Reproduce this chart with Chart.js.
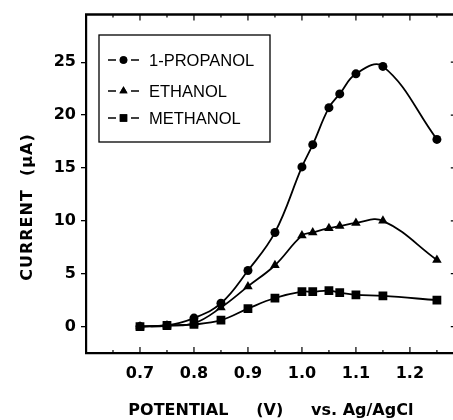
<!DOCTYPE html>
<html>
<head>
<meta charset="utf-8">
<script src="https://cdn.jsdelivr.net/npm/chart.js@4/dist/chart.umd.min.js"></script>
<style>
  html, body { margin: 0; padding: 0; background: #fff; overflow: hidden; }
  #wrap { width: 453px; height: 420px; overflow: hidden; }
</style>
</head>
<body>
<div id="wrap"><canvas id="c" width="462" height="420"></canvas></div>
<script>
// ---- data ----
const potential = [0.70, 0.75, 0.80, 0.85, 0.90, 0.95, 1.00, 1.02, 1.05, 1.07, 1.10, 1.15, 1.25];
const propanol  = [0.0, 0.1, 0.8, 2.2, 5.3, 8.9, 15.1, 17.2, 20.7, 22.0, 23.9, 24.6, 17.7];
const ethanol   = [0.0, 0.1, 0.3, 1.8, 3.8, 5.8, 8.6, 8.9, 9.3, 9.5, 9.8, 10.0, 6.3];
const methanol  = [0.0, 0.1, 0.2, 0.6, 1.7, 2.7, 3.3, 3.3, 3.4, 3.2, 3.0, 2.9, 2.5];
const seriesNames = ['1-PROPANOL', 'ETHANOL', 'METHANOL'];
const xTickLabels = [0.7, 0.8, 0.9, 1.0, 1.1, 1.2];
const xMinorTicks = [0.65, 0.75, 0.85, 0.95, 1.05, 1.15, 1.25];
const yTickLabels = [0, 5, 10, 15, 20, 25];
const xTitle = 'POTENTIAL     (V)     vs. Ag/AgCl';
const yTitle = 'CURRENT  (μA)';

const pts = arr => arr.map((v, i) => ({ x: potential[i], y: v }));

const styles = [
  { pointStyle: 'circle', pointRadius: 4.5 },
  { pointStyle: 'triangle', pointRadius: 5.5 },
  { pointStyle: 'rect', pointRadius: 6.2 }
];
const allSeries = [propanol, ethanol, methanol];

const datasets = allSeries.map((s, i) => ({
  label: seriesNames[i],
  data: pts(s),
  showLine: true,
  borderColor: '#000',
  backgroundColor: '#000',
  borderWidth: 1.8,
  tension: 0.4,
  pointStyle: styles[i].pointStyle,
  pointRadius: styles[i].pointRadius,
  pointBackgroundColor: '#000',
  pointBorderColor: '#000',
  pointBorderWidth: 0
}));

const framePlugin = {
  id: 'frame',
  afterDraw(chart) {
    const ctx = chart.ctx;
    const a = chart.chartArea;
    const xs = chart.scales.x, ys = chart.scales.y;
    ctx.save();
    ctx.strokeStyle = '#000';
    // top line
    ctx.lineWidth = 2.5;
    ctx.beginPath();
    ctx.moveTo(a.left - 1, a.top);
    ctx.lineTo(a.right, a.top);
    ctx.stroke();
    // inward ticks bottom & top
    ctx.lineWidth = 1.2;
    ctx.beginPath();
    xTickLabels.forEach(v => {
      const px = xs.getPixelForValue(v);
      ctx.moveTo(px, a.bottom); ctx.lineTo(px, a.bottom - 6);
      ctx.moveTo(px, a.top); ctx.lineTo(px, a.top + 6);
    });
    xMinorTicks.forEach(v => {
      const px = xs.getPixelForValue(v);
      ctx.moveTo(px, a.bottom); ctx.lineTo(px, a.bottom - 3);
      ctx.moveTo(px, a.top); ctx.lineTo(px, a.top + 3);
    });
    // right inward ticks
    yTickLabels.forEach(v => {
      const py = ys.getPixelForValue(v);
      ctx.moveTo(a.right, py); ctx.lineTo(a.right - 5, py);
    });
    ctx.stroke();

    // y title
    ctx.save();
    ctx.translate(28, 207);
    ctx.rotate(-Math.PI / 2);
    ctx.font = 'bold 16px "DejaVu Sans", sans-serif';
    ctx.letterSpacing = '1px';
    ctx.textAlign = 'center';
    ctx.textBaseline = 'middle';
    ctx.fillStyle = '#000';
    ctx.fillText(yTitle, 0, 0);
    ctx.restore();

    // legend box
    const bx = 99, by = 35, bw = 171, bh = 107;
    ctx.lineWidth = 1.3;
    ctx.strokeRect(bx, by, bw, bh);
    const rows = [60, 91, 118];
    ctx.font = '16.5px "Liberation Sans", Arial, sans-serif';
    ctx.fillStyle = '#000';
    ctx.textBaseline = 'middle';
    ctx.textAlign = 'left';
    chart.data.datasets.forEach((ds, i) => {
      const y = rows[i];
      ctx.lineWidth = 1.5;
      ctx.beginPath();
      ctx.moveTo(108, y); ctx.lineTo(116, y);
      ctx.moveTo(131, y); ctx.lineTo(139, y);
      ctx.stroke();
      Chart.helpers.drawPoint(ctx, {
        pointStyle: ds.pointStyle,
        radius: ds.pointRadius * 0.85,
        rotation: 0,
        borderWidth: 0
      }, 123.5, y);
      ctx.fill();
      ctx.fillText(ds.label, 149, y + 1);
    });
    ctx.restore();
  }
};

new Chart(document.getElementById('c'), {
  type: 'scatter',
  data: { datasets },
  plugins: [framePlugin],
  options: {
    responsive: false,
    animation: false,
    devicePixelRatio: 1,
    layout: { padding: { top: 14, right: 0, left: 0, bottom: 0 } },
    plugins: { legend: { display: false }, tooltip: { enabled: false } },
    scales: {
      x: {
        type: 'linear',
        min: 0.6,
        max: 1.285,
        afterBuildTicks: s => { s.ticks = xTickLabels.map(v => ({ value: v })); },
        afterFit: s => { s.height = 67; },
        grid: { display: true, drawOnChartArea: false, drawTicks: false },
        border: { display: true, color: '#000', width: 2.2 },
        ticks: {
          color: '#000',
          padding: 11,
          maxRotation: 0,
          font: { family: '"DejaVu Sans", sans-serif', size: 16, weight: 'bold' },
          callback: v => v.toFixed(1)
        },
        title: {
          display: true,
          text: xTitle,
          color: '#000',
          padding: { top: 8, bottom: 0 },
          font: { family: '"DejaVu Sans", sans-serif', size: 16, weight: 'bold' }
        }
      },
      y: {
        type: 'linear',
        min: -2.5,
        max: 29.5,
        afterBuildTicks: s => { s.ticks = yTickLabels.map(v => ({ value: v })); },
        afterFit: s => { s.width = 86; },
        grid: { display: true, drawOnChartArea: false, drawTicks: true, tickLength: 5, color: '#000', lineWidth: 1.3 },
        border: { display: true, color: '#000', width: 2.2 },
        ticks: {
          color: '#000',
          padding: 5,
          font: { family: '"DejaVu Sans", sans-serif', size: 16, weight: 'bold' }
        },
        title: { display: false }
      }
    }
  }
});
</script>
</body>
</html>
